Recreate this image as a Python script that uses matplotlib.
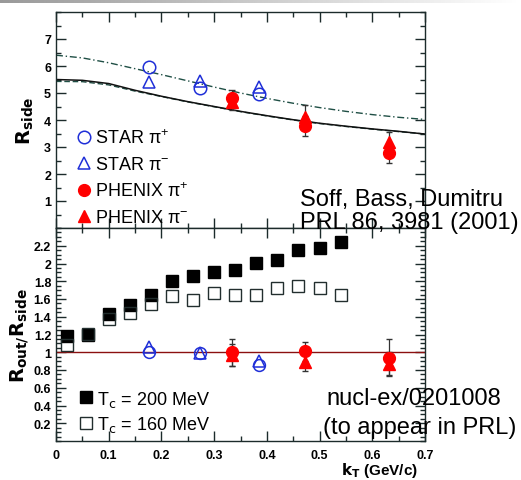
import matplotlib
matplotlib.use("Agg")
import matplotlib.pyplot as plt
from matplotlib.ticker import MultipleLocator
import numpy as np

# ---- top panel: R_side vs kT ----
kt_curve = [0.0, 0.05, 0.1, 0.15, 0.2, 0.25, 0.3, 0.35, 0.4, 0.45, 0.5, 0.55, 0.6, 0.65, 0.7]
rside_solid = [5.5, 5.47, 5.35, 5.1, 4.88, 4.68, 4.5, 4.32, 4.16, 4.01, 3.88, 3.77, 3.67, 3.58, 3.48]
rside_dashed = [5.43, 5.42, 5.3, 5.07, 4.87, 4.67, 4.49, 4.31, 4.15, 4.0, 3.87, 3.76, 3.66, 3.57, 3.48]
rside_dashdot = [6.4, 6.3, 6.12, 5.9, 5.68, 5.45, 5.22, 5.0, 4.8, 4.62, 4.46, 4.32, 4.2, 4.1, 4.02]

star_kt = [0.176, 0.273, 0.385]
star_pip_side = [5.98, 5.2, 4.95]
star_pim_side = [5.4, 5.45, 5.24]

phenix_kt = [0.333, 0.472, 0.632]
phenix_pip_side = [4.8, 3.76, 2.79]
phenix_pip_side_err = [0.3, 0.37, 0.37]
phenix_pim_side = [4.66, 4.1, 3.2]
phenix_pim_side_err = [0.3, 0.45, 0.37]

# ---- bottom panel: R_out/R_side vs kT ----
model_kt = [0.02, 0.06, 0.1, 0.14, 0.18, 0.22, 0.26, 0.30, 0.34, 0.38, 0.42, 0.46, 0.50, 0.54]
ratio_tc200 = [1.18, 1.2, 1.43, 1.53, 1.65, 1.8, 1.86, 1.9, 1.93, 2.01, 2.04, 2.15, 2.17, 2.24]
ratio_tc160 = [1.08, 1.21, 1.38, 1.44, 1.54, 1.63, 1.59, 1.67, 1.65, 1.65, 1.72, 1.75, 1.72, 1.65]

star_pip_ratio = [1.0, 0.99, 0.855]
star_pim_ratio = [1.06, 0.99, 0.9]
phenix_pip_ratio = [1.0, 1.01, 0.94]
phenix_pip_ratio_err = [0.15, 0.11, 0.21]
phenix_pim_ratio = [0.97, 0.89, 0.87]
phenix_pim_ratio_err = [0.12, 0.1, 0.13]

ytick_top = [1, 2, 3, 4, 5, 6, 7]
ytick_bot = [0.2, 0.4, 0.6, 0.8, 1.0, 1.2, 1.4, 1.6, 1.8, 2.0, 2.2]
ytick_bot_labels = ["0.2", "0.4", "0.6", "0.8", "1", "1.2", "1.4", "1.6", "1.8", "2", "2.2"]
xtick = [0, 0.1, 0.2, 0.3, 0.4, 0.5, 0.6, 0.7]
xtick_labels = ["0", "0.1", "0.2", "0.3", "0.4", "0.5", "0.6", "0.7"]

blue = "#1f2fd8"
red = "#ff0000"
frame = "#1c2b2b"
curve_green = "#1f4f45"
tick_fs = 9

plt.rcParams["font.family"] = ["Liberation Sans", "DejaVu Sans"]
plt.rcParams["mathtext.fontset"] = "dejavusans"

fig = plt.figure(figsize=(5.21, 4.81), dpi=100)

# slide header strip
hdr = fig.add_axes([0, 1 - 4 / 481, 1, 4 / 481])
grad = np.linspace(0.6, 1.0, 256)[None, :]
hdr.imshow(grad, aspect="auto", cmap="gray", vmin=0, vmax=1)
hdr.axis("off")

L, W = 56 / 521, 369 / 521
ax1 = fig.add_axes([L, (481 - 229) / 481, W, 216 / 481])
ax2 = fig.add_axes([L, (481 - 442) / 481, W, 213 / 481])

for ax in (ax1, ax2):
    ax.set_xlim(0, 0.7)
    ax.xaxis.set_major_locator(MultipleLocator(0.1))
    ax.xaxis.set_minor_locator(MultipleLocator(0.05))
    ax.tick_params(which="both", direction="in", top=True, right=True,
                   color=frame, width=1)
    ax.tick_params(which="major", length=7)
    ax.tick_params(which="minor", length=3.5)
    for s in ax.spines.values():
        s.set_color(frame)
        s.set_linewidth(1)

# top panel
ax1.plot(kt_curve, rside_dashed, ls=(0, (4, 2)), color=curve_green, lw=1)
ax1.plot(kt_curve, rside_solid, ls="-", color="#111111", lw=1.1)
ax1.plot(kt_curve, rside_dashdot, ls=(0, (5, 2, 1, 2)), color=curve_green, lw=1)

ax1.errorbar(phenix_kt, phenix_pip_side, yerr=phenix_pip_side_err, fmt="none",
             ecolor="#333333", elinewidth=0.9, capsize=2.5)
ax1.errorbar(phenix_kt, phenix_pim_side, yerr=phenix_pim_side_err, fmt="none",
             ecolor="#333333", elinewidth=0.9, capsize=2.5)
h1, = ax1.plot(star_kt, star_pip_side, "o", mfc="none", mec=blue, ms=9, mew=1.1,
               label=r"STAR $\mathregular{\pi^{+}}$")
h2, = ax1.plot(star_kt, star_pim_side, "^", mfc="none", mec=blue, ms=9, mew=1.1,
               label=r"STAR $\mathregular{\pi^{-}}$")
h3, = ax1.plot(phenix_kt, phenix_pip_side, "o", color=red, ms=8.5,
               label=r"PHENIX $\mathregular{\pi^{+}}$")
h4, = ax1.plot(phenix_kt, phenix_pim_side, "^", color=red, ms=9,
               label=r"PHENIX $\mathregular{\pi^{-}}$")

ax1.set_ylim(0, 8)
ax1.yaxis.set_minor_locator(MultipleLocator(0.5))
ax1.set_yticks(ytick_top)
ax1.set_yticklabels([str(v) for v in ytick_top], fontweight="bold", fontsize=tick_fs)
ax1.tick_params(labelbottom=False)
ax1.set_ylabel(r"$\mathbf{R_{side}}$", fontsize=14, labelpad=6)

ax1.legend(handles=[h1, h2, h3, h4], loc="upper left",
           bbox_to_anchor=(0.055, 0.46), frameon=False, fontsize=13,
           handlelength=0.9, handletextpad=0.15, labelspacing=0.48,
           borderpad=0, borderaxespad=0)

# bottom panel
ax2.axhline(1, color="#8b1010", lw=1)
s1, = ax2.plot(model_kt, ratio_tc200, "s", color="black", ms=8,
               label=r"T$_{\rm c}$ = 200 MeV")
s2, = ax2.plot(model_kt, ratio_tc160, "s", mfc="none", mec="#222e2e", ms=8, mew=1,
               label=r"T$_{\rm c}$ = 160 MeV")
ax2.errorbar(phenix_kt, phenix_pip_ratio, yerr=phenix_pip_ratio_err, fmt="none",
             ecolor="#333333", elinewidth=0.9, capsize=2.5)
ax2.errorbar(phenix_kt, phenix_pim_ratio, yerr=phenix_pim_ratio_err, fmt="none",
             ecolor="#333333", elinewidth=0.9, capsize=2.5)
ax2.plot(star_kt, star_pip_ratio, "o", mfc="none", mec=blue, ms=8.5, mew=1.1)
ax2.plot(star_kt, star_pim_ratio, "^", mfc="none", mec=blue, ms=8.5, mew=1.1)
ax2.plot(phenix_kt, phenix_pip_ratio, "o", color=red, ms=8.5)
ax2.plot(phenix_kt, phenix_pim_ratio, "^", color=red, ms=9)

ax2.set_ylim(0, 2.4)
ax2.yaxis.set_minor_locator(MultipleLocator(0.05))
ax2.set_yticks(ytick_bot)
ax2.set_yticklabels(ytick_bot_labels, fontweight="bold", fontsize=tick_fs)
ax2.set_xticks(xtick)
ax2.set_xticklabels(xtick_labels, fontweight="bold", fontsize=tick_fs)
ax2.tick_params(axis="x", pad=6)
ax2.set_ylabel(r"$\mathbf{R_{out/}R_{side}}$", fontsize=14, labelpad=2)
ax2.set_xlabel(r"$\mathbf{k_{T}}$ (GeV/c)", fontsize=11, fontweight="bold",
               ha="right")
ax2.xaxis.set_label_coords(0.98, -0.09)

ax2.legend(handles=[s1, s2], loc="upper left", bbox_to_anchor=(0.06, 0.245),
           frameon=False, fontsize=13, handlelength=0.9, handletextpad=0.15,
           labelspacing=0.3, borderpad=0, borderaxespad=0)

# annotations from the slide
fig.text(300 / 521, 1 - 189 / 481, "Soff, Bass, Dumitru\nPRL 86, 3981 (2001)",
         fontsize=17, va="top", ha="left", linespacing=1.05)
fig.text(326 / 521, 1 - 388 / 481, "nucl-ex/0201008", fontsize=17,
         va="top", ha="left")
fig.text(323 / 521, 1 - 417 / 481, "(to appear in PRL)", fontsize=17,
         va="top", ha="left")

fig.savefig("out.png", dpi=100)
